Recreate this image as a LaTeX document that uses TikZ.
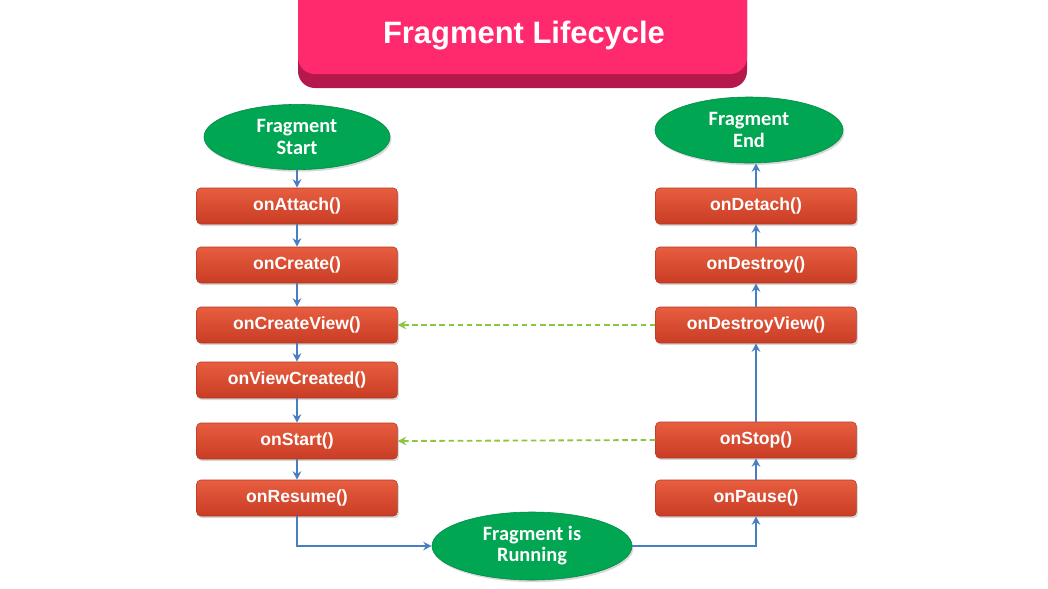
\documentclass[tikz,border=0pt]{standalone}
\usepackage{fontspec}
\setmainfont{Liberation Sans}
\newfontfamily\calfont{Carlito}
\usepackage{tikz}
\usetikzlibrary{shapes.geometric, arrows.meta, positioning, shadows}
\definecolor{titlepink}{RGB}{255,42,110}
\definecolor{titledark}{RGB}{181,24,74}
\definecolor{methodtop}{RGB}{232,94,64}
\definecolor{methodbot}{RGB}{200,60,36}
\definecolor{methodedge}{RGB}{180,56,34}
\definecolor{stategreen}{RGB}{0,166,81}
\definecolor{stateedge}{RGB}{0,136,70}
\definecolor{flowblue}{RGB}{74,126,194}
\definecolor{backgreen}{RGB}{140,198,63}
\tikzset{
  method/.style={rectangle, draw=methodedge, top color=methodtop, bottom color=methodbot,
    minimum width=5.02cm, minimum height=0.9cm, rounded corners=3pt, text=white,
    font=\bfseries\fontsize{12.5}{14}\selectfont,
    drop shadow={opacity=0.3, shadow xshift=1pt, shadow yshift=-1.5pt}},
  state/.style={ellipse, draw=stateedge, fill=stategreen, text=white, align=center,
    inner sep=0pt, font=\calfont\bfseries\fontsize{14.5}{15}\selectfont,
    drop shadow={opacity=0.3, shadow xshift=1pt, shadow yshift=-1.5pt}},
  flow/.style={-{Stealth[length=6pt,width=6pt]}, line width=1.7pt, color=flowblue},
  back/.style={-{Stealth[length=6pt,width=6pt]}, line width=1.3pt, color=backgreen,
    dash pattern=on 4pt off 2.5pt}
}

\begin{document}
\begin{tikzpicture}[x=0.025cm, y=-0.025cm]
  \useasboundingbox[fill=white] (0,0) rectangle (1048,588);

  % Title banner
  \fill[titledark, rounded corners=12pt] (298,-20) rectangle (747,88);
  \fill[titlepink, rounded corners=12pt] (298,-20) rectangle (747,74);
  \node[text=white, font=\bfseries\fontsize{22}{24}\selectfont] (title) at (524,36) {Fragment Lifecycle};

  % States
  \node[state, minimum width=4.65cm, minimum height=1.63cm] (start) at (297,137) {Fragment\\Start};
  \node[state, minimum width=4.7cm, minimum height=1.65cm] (end) at (749,130) {Fragment\\End};
  \node[state, minimum width=5.0cm, minimum height=1.7cm] (running) at (532,546) {Fragment is\\Running};

  % Left column
  \node[method] (attach) at (297,206) {onAttach()};
  \node[method] (create) at (297,265) {onCreate()};
  \node[method] (createview) at (297,325) {onCreateView()};
  \node[method] (viewcreated) at (297,380) {onViewCreated()};
  \node[method] (start2) at (297,441) {onStart()};
  \node[method] (resume) at (297,498) {onResume()};

  % Right column
  \node[method] (detach) at (756,206) {onDetach()};
  \node[method] (destroy) at (756,265) {onDestroy()};
  \node[method] (destroyview) at (756,325) {onDestroyView()};
  \node[method] (stop) at (756,440) {onStop()};
  \node[method] (pause) at (756,498) {onPause()};

  % Forward flow
  \draw[flow] (start) -- (attach);
  \draw[flow] (attach) -- (create);
  \draw[flow] (create) -- (createview);
  \draw[flow] (createview) -- (viewcreated);
  \draw[flow] (viewcreated) -- (start2);
  \draw[flow] (start2) -- (resume);
  \draw[flow] (resume.south) |- (running.west);
  \draw[flow] (running.east) -| (pause.south);
  \draw[flow] (pause) -- (stop);
  \draw[flow] (stop) -- (destroyview);
  \draw[flow] (destroyview) -- (destroy);
  \draw[flow] (destroy) -- (detach);
  \draw[flow] (detach.north) -- (detach.north |- end.south);

  % Back paths
  \draw[back] (destroyview.west) -- (createview.east);
  \draw[back] (stop.west) -- (start2.east);
\end{tikzpicture}
\end{document}
